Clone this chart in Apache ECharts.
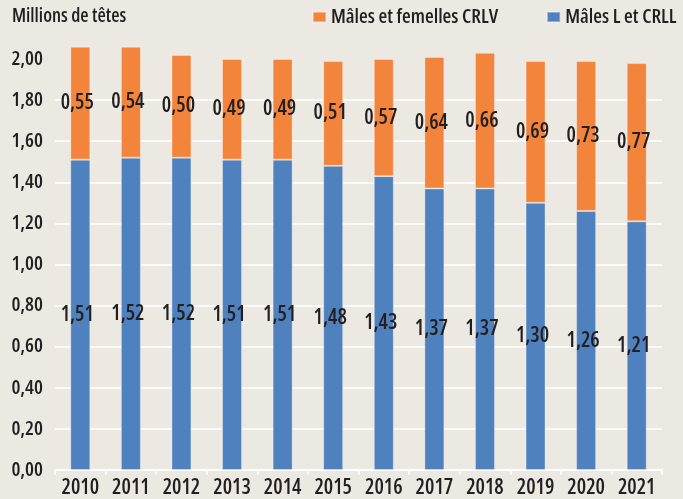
<!DOCTYPE html>
<html>
<head>
<meta charset="utf-8">
<script src="https://cdn.jsdelivr.net/npm/echarts@6/dist/echarts.min.js"></script>
<style>
    html, body { margin: 0; padding: 0; background: #ece9e3; }
    #chart { width: 683px; height: 499px; }
</style>
</head>
<body>
<div id="chart"></div>
<script>
//--------------------------------
// Data
//--------------------------------
const years = ['2010', '2011', '2012', '2013', '2014', '2015', '2016', '2017', '2018', '2019', '2020', '2021'];
const malesL = [1.51, 1.52, 1.52, 1.51, 1.51, 1.48, 1.43, 1.37, 1.37, 1.30, 1.26, 1.21];
const malesFemellesCRLV = [0.55, 0.54, 0.50, 0.49, 0.49, 0.51, 0.57, 0.64, 0.66, 0.69, 0.73, 0.77];

//--------------------------------
// Style
//--------------------------------
// stretch keyword goes in the weight slot so the canvas font string picks the condensed face
const FONT = '"Open Sans", "Roboto Condensed", sans-serif';
const WEIGHT = '600 condensed';
const TEXT = '#231f20';
const fr = (v) => v.toFixed(2).replace('.', ',');

const barLabel = {
    show: true,
    position: 'inside',
    offset: [-3, 0],
    color: TEXT,
    fontFamily: FONT,
    fontWeight: WEIGHT,
    fontSize: 21,
    formatter: (p) => fr(p.value)
};

var myChart = echarts.init(document.getElementById('chart'));

let options = {
    backgroundColor: '#ece9e3',
    animation: false,
    title: {
        text: 'Millions de têtes',
        left: 12,
        top: 7,
        padding: 0,
        textStyle: { fontFamily: FONT, fontSize: 19, fontWeight: WEIGHT, color: TEXT }
    },
    legend: {
        left: 312,
        top: 7,
        padding: 0,
        itemWidth: 13,
        itemHeight: 10,
        itemGap: 48,
        icon: 'rect',
        textStyle: { fontFamily: FONT, fontSize: 20, fontWeight: WEIGHT, color: TEXT },
        data: ['Mâles et femelles CRLV', 'Mâles L et CRLL']
    },
    grid: {
        left: 55,
        right: 21,
        top: 59,
        bottom: 29
    },
    xAxis: {
        type: 'category',
        data: years,
        axisLine: { lineStyle: { color: '#ffffff', width: 1.5 } },
        axisTick: { show: true, length: 5, lineStyle: { color: '#ffffff', width: 1.5 } },
        axisLabel: { interval: 0, color: TEXT, fontFamily: FONT, fontWeight: WEIGHT, fontSize: 21, margin: 8 }
    },
    yAxis: {
        type: 'value',
        min: 0,
        max: 2,
        interval: 0.2,
        axisLine: { show: false },
        axisTick: { show: false },
        axisLabel: {
            color: TEXT, fontFamily: FONT, fontWeight: WEIGHT, fontSize: 20, margin: 12,
            formatter: (v) => fr(v)
        },
        splitLine: { showMaxLine: false, lineStyle: { color: '#ffffff', width: 1.5 } }
    },
    series: [
        {
            name: 'Mâles L et CRLL',
            type: 'bar',
            stack: 'total',
            barWidth: 20,
            clip: false,
            itemStyle: { color: '#4e81bd', borderColor: 'rgba(255,255,255,0.35)', borderWidth: 1 },
            label: barLabel,
            data: malesL
        },
        {
            name: 'Mâles et femelles CRLV',
            type: 'bar',
            stack: 'total',
            barWidth: 20,
            clip: false,
            itemStyle: { color: '#f3843b', borderColor: 'rgba(255,255,255,0.35)', borderWidth: 1 },
            label: barLabel,
            data: malesFemellesCRLV
        }
    ]
};

myChart.setOption(options);
</script>
</body>
</html>
